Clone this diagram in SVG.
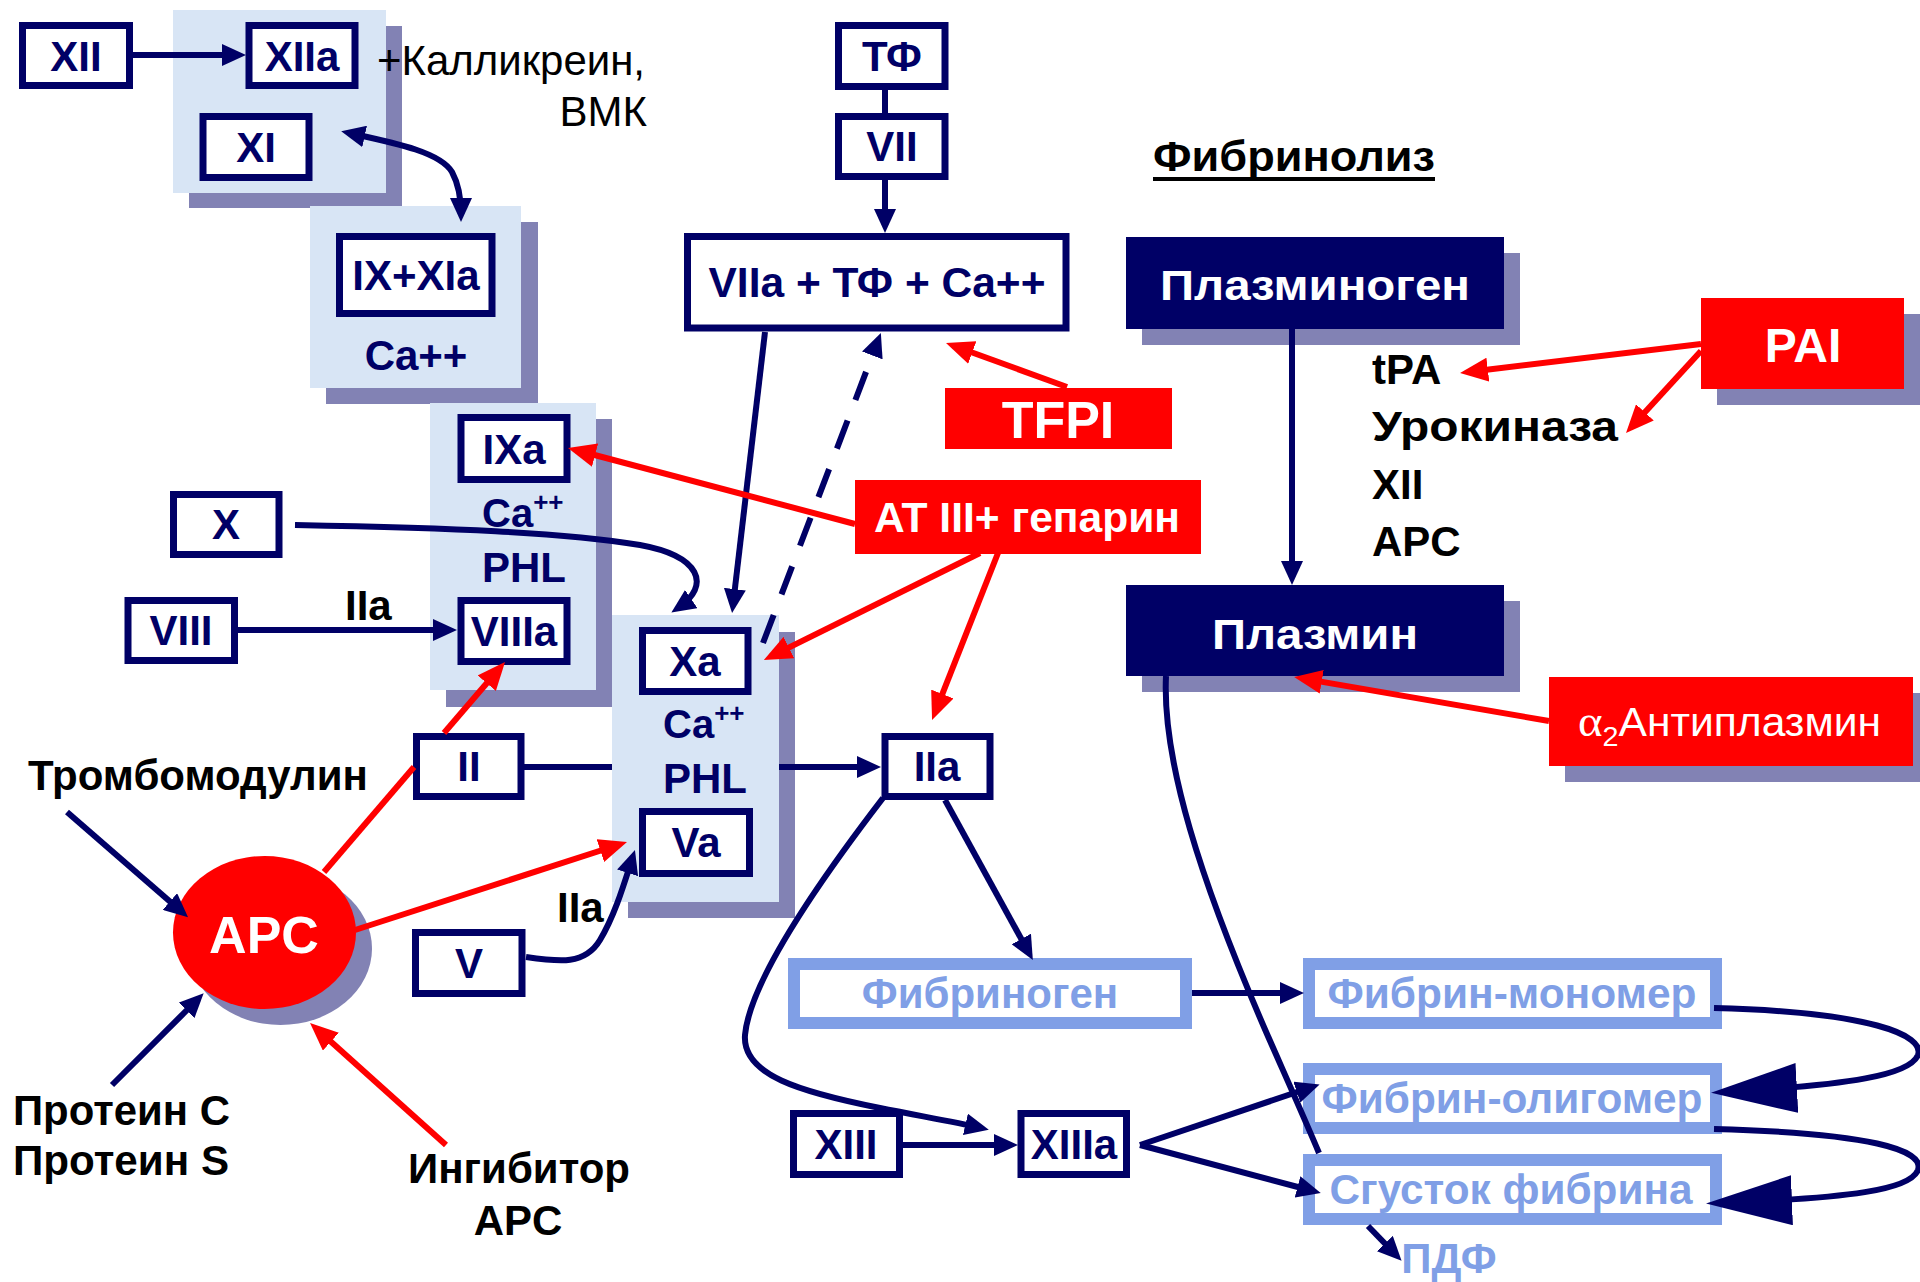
<svg xmlns="http://www.w3.org/2000/svg" width="1920" height="1282" viewBox="0 0 1920 1282">
<style>
.pn{fill:#D8E5F5}
.sh{fill:#8282B4}
.box{fill:#fff;stroke:#000066;stroke-width:7}
.fb{fill:#fff;stroke:#809FE6;stroke-width:12}
.t{font-family:"Liberation Sans",Arial,sans-serif;font-weight:bold}
.lb{font-size:42px;fill:#000066;text-anchor:middle}
.bk{font-size:42px;fill:#000}
.wt{fill:#fff;text-anchor:middle}
.fl{font-size:42px;fill:#809FE6;text-anchor:middle}
.cn{fill:none;stroke:#000066;stroke-width:6}
.rd{fill:none;stroke:#FF0000;stroke-width:6}
</style>
<defs>
<marker id="ah" markerUnits="userSpaceOnUse" markerWidth="24" markerHeight="22" refX="16" refY="11" orient="auto"><path d="M0,0 L24,11 L0,22 z" fill="#000066"/></marker>
<marker id="ah2" markerUnits="userSpaceOnUse" markerWidth="24" markerHeight="22" refX="16" refY="11" orient="auto-start-reverse"><path d="M0,0 L24,11 L0,22 z" fill="#000066"/></marker>
<marker id="ar" markerUnits="userSpaceOnUse" markerWidth="28" markerHeight="24" refX="20" refY="12" orient="auto"><path d="M0,0 L28,12 L0,24 z" fill="#FF0000"/></marker>
<marker id="ab" markerUnits="userSpaceOnUse" markerWidth="86" markerHeight="50" refX="72" refY="25" orient="auto"><path d="M0,0 L86,25 L0,50 z" fill="#000066"/></marker>
</defs>
<rect width="1920" height="1282" fill="#fff"/>

<g id="panels">
<g id="panel1"><rect class="sh" x="189" y="26" width="213" height="182"/><rect class="pn" x="173" y="10" width="213" height="183"/></g>
<g id="panel2"><rect class="sh" x="326" y="222" width="212" height="182"/><rect class="pn" x="310" y="206" width="211" height="182"/>
<text class="t lb" x="416" y="370" font-size="40">Ca++</text></g>
<g id="panel3"><rect class="sh" x="446" y="419" width="166" height="288"/><rect class="pn" x="430" y="403" width="166" height="287"/>
<text class="t" x="482" y="527" font-size="40" fill="#000066">Ca<tspan font-size="26" dy="-16">++</tspan></text>
<text class="t lb" x="524" y="582" font-size="40">PHL</text></g>
<g id="panel4"><rect class="sh" x="628" y="632" width="167" height="286"/><rect class="pn" x="612" y="615" width="167" height="287"/>
<text class="t" x="663" y="738" font-size="40" fill="#000066">Ca<tspan font-size="26" dy="-16">++</tspan></text>
<text class="t lb" x="705" y="793" font-size="40">PHL</text></g>
</g>

<g id="n-XII"><rect class="box" x="22.5" y="25.5" width="107" height="60"/><text class="t lb" x="76" y="71">XII</text></g>
<g id="n-XIIa"><rect class="box" x="249" y="25.5" width="106" height="60"/><text class="t lb" x="302" y="71">XIIa</text></g>
<g id="n-XI"><rect class="box" x="203" y="116.5" width="106" height="61"/><text class="t lb" x="256" y="162">XI</text></g>
<g id="n-IXXIa"><rect class="box" x="339.5" y="236.5" width="152.5" height="77"/><text class="t lb" x="416" y="290">IX+XIa</text></g>
<g id="n-TF"><rect class="box" x="838.5" y="25.5" width="106.5" height="61"/><text class="t lb" x="892" y="71">ТФ</text></g>
<g id="n-VII"><rect class="box" x="838.5" y="116.5" width="106.5" height="60"/><text class="t lb" x="892" y="161">VII</text></g>
<g id="n-VIIa"><rect class="box" x="687.5" y="236.5" width="378.5" height="91.5"/><text class="t lb" x="877" y="297" textLength="337" lengthAdjust="spacingAndGlyphs">VIIa + ТФ + Ca++</text></g>
<g id="n-IXa"><rect class="box" x="461" y="417.5" width="106" height="62"/><text class="t lb" x="514" y="464">IXa</text></g>
<g id="n-VIIIa"><rect class="box" x="461" y="600.5" width="106" height="61"/><text class="t lb" x="514" y="646">VIIIa</text></g>
<g id="n-X"><rect class="box" x="173.5" y="494.5" width="105.5" height="60"/><text class="t lb" x="226" y="539">X</text></g>
<g id="n-VIII"><rect class="box" x="128" y="600.5" width="106.5" height="60"/><text class="t lb" x="181" y="645">VIII</text></g>
<g id="n-Xa"><rect class="box" x="642.5" y="630.5" width="105.5" height="61"/><text class="t lb" x="695" y="676">Xa</text></g>
<g id="n-Va"><rect class="box" x="642.5" y="811.5" width="107" height="62"/><text class="t lb" x="696" y="857">Va</text></g>
<g id="n-II"><rect class="box" x="416.5" y="736.5" width="104.5" height="60"/><text class="t lb" x="469" y="781">II</text></g>
<g id="n-IIa"><rect class="box" x="885" y="736.5" width="105" height="60"/><text class="t lb" x="937" y="781">IIa</text></g>
<g id="n-V"><rect class="box" x="415.5" y="932.5" width="106.5" height="61"/><text class="t lb" x="469" y="978">V</text></g>
<g id="n-XIII"><rect class="box" x="793.5" y="1113.5" width="106" height="61"/><text class="t lb" x="846" y="1159">XIII</text></g>
<g id="n-XIIIa"><rect class="box" x="1021" y="1113.5" width="105.5" height="61"/><text class="t lb" x="1074" y="1159">XIIIa</text></g>

<g id="n-fibrinogen"><rect class="fb" x="794" y="964" width="392" height="59"/><text class="t fl" x="990" y="1008">Фибриноген</text></g>
<g id="n-monomer"><rect class="fb" x="1309" y="964" width="407" height="59"/><text class="t fl" x="1512" y="1008" textLength="369" lengthAdjust="spacingAndGlyphs">Фибрин-мономер</text></g>
<g id="n-oligomer"><rect class="fb" x="1309" y="1069" width="407" height="59"/><text class="t fl" x="1512" y="1113" textLength="381" lengthAdjust="spacingAndGlyphs">Фибрин-олигомер</text></g>
<g id="n-clot"><rect class="fb" x="1309" y="1160" width="407" height="59"/><text class="t fl" x="1511" y="1204" textLength="363" lengthAdjust="spacingAndGlyphs">Сгусток фибрина</text></g>
<g id="n-PDF"><text class="t fl" x="1449" y="1273">ПДФ</text></g>

<g id="n-plasminogen"><rect class="sh" x="1142" y="253" width="378" height="92"/><rect x="1126" y="237" width="378" height="92" fill="#000066"/><text class="t wt" x="1315" y="300" font-size="42" textLength="310" lengthAdjust="spacingAndGlyphs">Плазминоген</text></g>
<g id="n-plasmin"><rect class="sh" x="1142" y="601" width="378" height="91"/><rect x="1126" y="585" width="378" height="91" fill="#000066"/><text class="t wt" x="1315" y="649" font-size="42" textLength="206" lengthAdjust="spacingAndGlyphs">Плазмин</text></g>
<g id="n-PAI"><rect class="sh" x="1717" y="314" width="203" height="91"/><rect x="1701" y="298" width="203" height="91" fill="#FF0000"/><text class="t wt" x="1803" y="362" font-size="48">PAI</text></g>
<g id="n-antiplasmin"><rect class="sh" x="1565" y="693" width="364" height="89"/><rect x="1549" y="677" width="364" height="89" fill="#FF0000"/><text x="1578" y="736" font-family="Liberation Sans, Arial, sans-serif" font-size="40" fill="#fff" textLength="303" lengthAdjust="spacingAndGlyphs"><tspan font-family="Liberation Serif, serif" font-size="44">α</tspan><tspan font-size="27" dy="10">2</tspan><tspan dy="-10">Антиплазмин</tspan></text></g>
<g id="n-TFPI"><rect x="945" y="388" width="227" height="61" fill="#FF0000"/><text class="t wt" x="1058" y="438" font-size="52">TFPI</text></g>
<g id="n-AT"><rect x="855" y="480" width="346" height="74" fill="#FF0000"/><text class="t wt" x="1027" y="532" font-size="42" textLength="306" lengthAdjust="spacingAndGlyphs">AT III+ гепарин</text></g>
<g id="n-APC"><ellipse cx="280.5" cy="948.5" rx="91.5" ry="76.5" fill="#8282B4"/><ellipse cx="264.5" cy="932.5" rx="91.5" ry="76.5" fill="#FF0000"/><text class="t wt" x="264" y="953" font-size="52">APC</text></g>

<g id="labels">
<text x="377" y="75" font-family="Liberation Sans, Arial, sans-serif" font-size="42" textLength="268" lengthAdjust="spacingAndGlyphs">+Калликреин,</text>
<text x="647" y="126" font-family="Liberation Sans, Arial, sans-serif" font-size="42" text-anchor="end">ВМК</text>
<text class="t bk" x="345" y="620" font-size="40">IIa</text>
<text class="t bk" x="557" y="922" font-size="40">IIa</text>
<text class="t bk" x="28" y="790" textLength="340" lengthAdjust="spacingAndGlyphs">Тромбомодулин</text>
<text class="t bk" x="13" y="1125" textLength="217" lengthAdjust="spacingAndGlyphs">Протеин С</text>
<text class="t bk" x="13" y="1175" textLength="216" lengthAdjust="spacingAndGlyphs">Протеин S</text>
<text class="t bk" x="519" y="1183" text-anchor="middle" textLength="222" lengthAdjust="spacingAndGlyphs">Ингибитор</text>
<text class="t bk" x="518" y="1235" text-anchor="middle">APC</text>
<text class="t bk" x="1153" y="171" textLength="282" lengthAdjust="spacingAndGlyphs">Фибринолиз</text>
<rect x="1153" y="177" width="282" height="4" fill="#000"/>
<text class="t bk" x="1372" y="384" font-size="45">tPA</text>
<text class="t bk" x="1372" y="441" font-size="45" textLength="246" lengthAdjust="spacingAndGlyphs">Урокиназа</text>
<text class="t bk" x="1372" y="499" font-size="45">XII</text>
<text class="t bk" x="1372" y="556" font-size="45">APC</text>
</g>

<g id="connectors">
<path class="cn" d="M133,55 L238,55" marker-end="url(#ah)"/>
<path class="cn" d="M349,133 C395,143 440,152 452,172 C459,185 461,200 461,214" marker-start="url(#ah2)" marker-end="url(#ah2)"/>
<path class="cn" d="M885,90 L885,113" stroke-width="7"/>
<path class="cn" d="M885,180 L885,225" marker-end="url(#ah)"/>
<path class="cn" d="M765,332 L733,605" stroke-width="5" marker-end="url(#ah)"/>
<path class="cn" d="M763,643 L878,340.5" stroke-dasharray="30 22" marker-end="url(#ah)"/>
<path class="cn" d="M295,525 C450,528 560,532 640,545 C700,556 712,585 678,608" marker-end="url(#ah)"/>
<path class="cn" d="M238,630 L449,630" marker-end="url(#ah)"/>
<path class="cn" d="M524,767 L612,767"/>
<path class="cn" d="M779,767 L873,767" marker-end="url(#ah)"/>
<path class="cn" d="M526,957 C560,962 585,965 600,940 C615,915 624,884 632.5,857.6" marker-end="url(#ah)"/>
<path class="cn" d="M945,800 L1029,953" marker-end="url(#ah)"/>
<path class="cn" d="M883,798 C820,880 750,980 745,1035 C742,1075 800,1092 880,1108 C920,1116 955,1122 981,1128" marker-end="url(#ah)"/>
<path class="cn" d="M903,1145 L1010,1145" marker-end="url(#ah)"/>
<path class="cn" d="M1140,1145 L1312,1087" stroke-width="7" marker-end="url(#ah)"/>
<path class="cn" d="M1140,1145 L1313,1191" stroke-width="7" marker-end="url(#ah)"/>
<path class="cn" d="M1192,993 L1296,993" stroke-width="7" marker-end="url(#ah)"/>
<path class="cn" d="M1714,1008 C1870,1012 1925,1035 1918,1055 C1910,1075 1850,1085 1725,1092" stroke-width="7" marker-end="url(#ab)"/>
<path class="cn" d="M1714,1129 C1870,1133 1925,1150 1918,1170 C1910,1190 1850,1198 1720,1203" stroke-width="7" marker-end="url(#ab)"/>
<path class="cn" d="M1166,676 C1162,760 1200,880 1267,1034 C1285,1075 1303,1115 1319,1153" stroke-width="5"/>
<path class="cn" d="M1368,1226 L1396,1255" marker-end="url(#ah)"/>
<path class="cn" d="M1292,329 L1292,577" stroke-width="5" marker-end="url(#ah)"/>
<path class="cn" d="M67,812 L182,912" stroke-width="7" marker-end="url(#ah)"/>
<path class="cn" d="M112,1085 L198,999" stroke-width="7" marker-end="url(#ah)"/>
<path class="rd" d="M1067,387 L953.5,345.7" marker-end="url(#ar)"/>
<path class="rd" d="M855,524 L575.7,450" marker-end="url(#ar)"/>
<path class="rd" d="M980,553 L771,656.4" marker-end="url(#ar)"/>
<path class="rd" d="M998,553 L935,712.6" marker-end="url(#ar)"/>
<path class="rd" d="M324,872 L414,767"/>
<path class="rd" d="M444,733 L499.8,668" marker-end="url(#ar)"/>
<path class="rd" d="M355,930 L619.4,844.5" marker-end="url(#ar)"/>
<path class="rd" d="M446,1145 L316,1028.3" marker-end="url(#ar)"/>
<path class="rd" d="M1701,344 L1468,372" marker-end="url(#ar)"/>
<path class="rd" d="M1701,351 L1631.4,427.1" marker-end="url(#ar)"/>
<path class="rd" d="M1549,721 L1302,678.4" marker-end="url(#ar)"/>
</g>
</svg>
